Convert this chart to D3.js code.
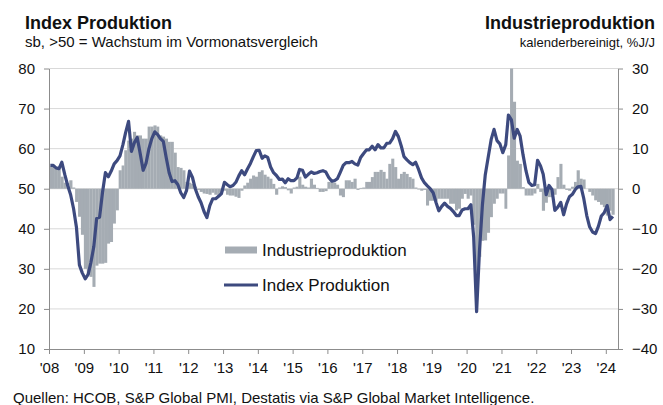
<!DOCTYPE html>
<html>
<head>
<meta charset="utf-8">
<script src="https://cdn.jsdelivr.net/npm/d3@7"></script>
<style>
  body { margin: 0; background: #fff; }
  svg { display: block; font-family: "Liberation Sans", Arial, sans-serif; }
  .axis path, .axis line { stroke: #8c8c8c; }
  .axis text { font-size: 15px; fill: #111; }
</style>
</head>
<body>
<svg id="chart"></svg>
<script>
const startYear = 2008;
const yearLabels = ["'08", "'09", "'10", "'11", "'12", "'13", "'14", "'15", "'16", "'17", "'18", "'19", "'20", "'21", "'22", "'23", "'24"];
const leftTicks = [10, 20, 30, 40, 50, 60, 70, 80];
const rightTicks = [-40, -30, -20, -10, 0, 10, 20, 30];

// Index Produktion (PMI output, left axis), monthly from Jan 2008
const pmiOutput = [
  55.8, 55.8, 55.2, 55.0, 56.6, 53.5, 50.8, 48.5, 45.0, 40.4, 31.0, 29.0,
  27.5, 28.6, 31.5, 35.5, 42.6, 42.9, 49.0, 54.0, 53.0, 54.4, 56.2, 57.0,
  58.2, 61.0, 64.0, 66.8, 59.3, 61.5, 62.8, 58.8, 54.6, 56.3, 60.0, 62.5,
  64.2, 63.5, 62.5, 61.8, 57.8, 54.0, 51.8, 52.0, 51.0, 49.0, 47.8, 49.6,
  54.4, 52.8, 50.0, 48.0, 46.5, 44.3, 42.8, 45.8, 47.5, 47.5, 48.1, 48.8,
  51.6, 51.0, 50.5, 50.8, 51.6, 53.2, 54.5, 53.5, 55.0, 56.3, 58.0, 59.5,
  59.6, 57.6, 58.2, 57.8, 55.4, 54.0, 53.3, 52.3, 52.4, 51.5, 52.5, 52.0,
  52.0, 52.7, 54.8, 54.6, 52.9, 53.6, 54.2, 53.8, 54.0, 54.3, 54.5, 54.2,
  52.8, 51.9, 52.0, 52.5, 54.1, 55.8, 56.5, 56.5, 56.8, 56.2, 55.9, 57.8,
  58.8, 59.7, 59.7, 60.6, 59.7, 61.0, 60.2, 60.2, 61.3, 61.4, 62.5, 64.3,
  63.0, 60.6, 58.0, 57.2, 56.5, 56.0, 56.6, 54.8, 52.7, 51.5, 50.7, 50.0,
  49.0, 46.5, 44.5, 45.6, 46.4, 45.6, 45.1, 44.3, 43.3, 43.3, 44.7, 45.0,
  45.0, 46.0, 38.0, 19.3, 34.5, 46.0, 53.5, 57.9, 62.3, 64.8, 62.0, 61.2,
  59.0, 61.0, 68.4, 67.2, 62.6, 64.8, 63.2, 58.5, 54.5, 51.6, 50.8, 51.0,
  57.1, 55.7, 53.6, 48.5, 50.8, 49.8, 44.6, 45.4, 46.6, 43.5, 46.2, 48.0,
  48.6, 49.8, 50.5, 50.6, 47.5, 43.3, 40.5, 39.2, 38.8, 40.6, 43.2, 44.0,
  45.8, 42.3, 43.1
];

// Industrieproduktion (% J/J, right axis), monthly from Jan 2008
const industrialProduction = [
  5.5, 5.8, 5.0, 5.2, 3.0, 1.5, 1.4, 2.1, 0.3, -3.3, -7.0, -11.5,
  -20.0, -21.5, -22.0, -24.5, -19.2, -18.7, -18.7, -18.5, -13.7, -13.3, -8.7, -5.4,
  4.6, 5.8, 9.6, 12.0, 12.5, 14.2, 13.3, 13.3, 12.5, 12.5, 15.5, 15.5,
  15.8, 15.5, 13.3, 13.0, 12.5, 11.7, 11.7, 9.0, 5.4, 5.2, 4.6, 1.7,
  1.5, 1.2, 0.5, -0.3, -0.8, -1.2, -1.3, -1.5, -1.0, -1.5, -1.7, -0.8,
  -0.5, -1.5, -1.7, -1.7, -2.0, -2.3, -0.5, 0.8, 1.5, 2.5, 3.3, 3.0,
  4.2, 4.6, 3.5, 3.0, 2.5, 1.2, -1.5, 0.3, 0.6, 0.4, -0.4, -1.2,
  0.3, 0.5, 3.0, 1.0, 0.5, 0.3, 2.5, 1.0, 0.2, -0.8, -0.8, -0.6,
  1.7, 1.7, 1.5, 1.0, -1.7, -2.1, 2.1, 2.1, 1.7, 2.5, -0.3, 0.2,
  0.3, 1.7, 1.7, 2.9, 4.2, 4.2, 4.7, 4.2, 2.5, 6.2, 7.5, 5.4,
  2.5, 3.7, 4.2, 3.7, 2.9, 2.5, 0.3, -0.2, -0.5, -0.3, -4.2, -3.0,
  -3.0, -3.0, -2.5, -2.5, -2.5, -2.5, -3.75, -3.75, -5.4, -5.0, -2.5, -1.3,
  -2.5, -1.7, -9.0, -22.0, -17.0, -13.0, -12.9, -11.0, -7.1, -3.75, -2.5, -1.2,
  -1.2, -5.0, 8.3, 30.0, 21.7, 7.0, 6.2, 0.4, -1.7, -1.7, -1.7, -1.2,
  1.2, -0.8, -5.5, -3.5, -2.1, -2.1, -1.5, 2.9, 6.2, 1.0, -0.3, -0.5,
  0.5, 1.7, 4.6, 2.5, 2.3, 0.0, -0.8, -1.7, -2.9, -3.3, -4.0, -4.6,
  -6.7, -5.5, -6.5
];

const w = 663;
const h = 405;
const plotLeft = 49, plotRight = 618, plotTop = 68.5, plotBottom = 349;

const svg = d3.select('#chart')
  .attr('width', w)
  .attr('height', h);

const xScale = d3.scaleTime()
  .domain([new Date(startYear, 0, 1), new Date(2024, 4, 8)])
  .range([plotLeft, plotRight]);

const yLeft = d3.scaleLinear().domain([10, 80]).range([plotBottom, plotTop]);
const yRight = d3.scaleLinear().domain([-40, 30]).range([plotBottom, plotTop]);

// gridlines
svg.append('g')
  .selectAll('line')
  .data(leftTicks.slice(1))
  .enter()
  .append('line')
  .attr('x1', plotLeft)
  .attr('x2', plotRight)
  .attr('y1', d => yLeft(d))
  .attr('y2', d => yLeft(d))
  .attr('stroke', '#d9d9d9')
  .attr('stroke-width', 1);

// bars
const barColor = '#a5acb3';
svg.append('g')
  .selectAll('rect')
  .data(industrialProduction)
  .enter()
  .append('rect')
  .attr('x', (d, i) => xScale(new Date(startYear, i, 1)))
  .attr('width', (d, i) => xScale(new Date(startYear, i + 1, 1)) - xScale(new Date(startYear, i, 1)) + 0.2)
  .attr('y', d => Math.min(yRight(d), yRight(0)))
  .attr('height', d => Math.abs(yRight(d) - yRight(0)))
  .attr('fill', barColor);

// line
const lineColor = '#3d4a7f';
const line = d3.line()
  .x((d, i) => xScale(new Date(startYear, i, 15)))
  .y(d => yLeft(d));

svg.append('path')
  .datum(pmiOutput)
  .attr('d', line)
  .attr('fill', 'none')
  .attr('stroke', lineColor)
  .attr('stroke-width', 3.2)
  .attr('stroke-linejoin', 'round');

// axes
svg.append('g')
  .attr('class', 'axis')
  .attr('transform', `translate(${plotLeft},0)`)
  .call(d3.axisLeft(yLeft).tickValues(leftTicks).tickSize(5).tickSizeOuter(0).tickPadding(9));

svg.append('g')
  .attr('class', 'axis')
  .attr('transform', `translate(${plotRight},0)`)
  .call(d3.axisRight(yRight).tickValues(rightTicks).tickSize(5).tickSizeOuter(0).tickPadding(9));

svg.append('g')
  .attr('class', 'axis')
  .attr('transform', `translate(0,${plotBottom})`)
  .call(d3.axisBottom(xScale)
    .tickValues(yearLabels.map((d, i) => new Date(startYear + i, 0, 1)))
    .tickFormat((d, i) => yearLabels[i])
    .tickSize(5)
    .tickSizeOuter(0)
    .tickPadding(8));

// legend
const legend = svg.append('g');
legend.append('rect')
  .attr('x', 225).attr('y', 246.5).attr('width', 32).attr('height', 7)
  .attr('fill', barColor);
legend.append('text')
  .attr('x', 262).attr('y', 250).attr('dy', '0.35em')
  .attr('font-size', 17).attr('fill', '#111')
  .text('Industrieproduktion');
legend.append('line')
  .attr('x1', 224).attr('x2', 258).attr('y1', 285).attr('y2', 285)
  .attr('stroke', lineColor).attr('stroke-width', 3);
legend.append('text')
  .attr('x', 262).attr('y', 285).attr('dy', '0.35em')
  .attr('font-size', 17).attr('fill', '#111')
  .text('Index Produktion');

// titles
svg.append('text')
  .attr('x', 25).attr('y', 29)
  .attr('font-size', 18).attr('font-weight', 'bold').attr('fill', '#111')
  .text('Index Produktion');
svg.append('text')
  .attr('x', 25).attr('y', 47)
  .attr('font-size', 15).attr('fill', '#111')
  .text('sb, >50 = Wachstum im Vormonatsvergleich');
svg.append('text')
  .attr('x', 655).attr('y', 29).attr('text-anchor', 'end')
  .attr('font-size', 18).attr('font-weight', 'bold').attr('fill', '#111')
  .text('Industrieproduktion');
svg.append('text')
  .attr('x', 655).attr('y', 47).attr('text-anchor', 'end')
  .attr('font-size', 13).attr('fill', '#111')
  .text('kalenderbereinigt, %J/J');

// source
svg.append('text')
  .attr('x', 13).attr('y', 403)
  .attr('font-size', 15).attr('fill', '#111')
  .text('Quellen: HCOB, S&P Global PMI, Destatis via S&P Global Market Intelligence.');
</script>
</body>
</html>
